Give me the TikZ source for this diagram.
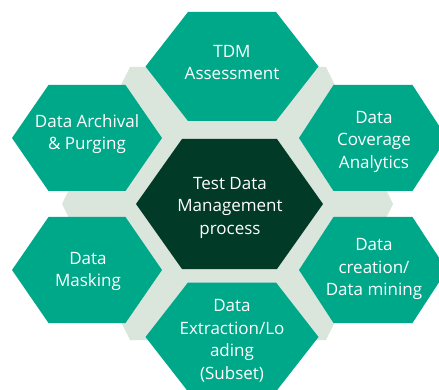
\documentclass[tikz,border=0pt]{standalone}
\usepackage{fontspec}
\setmainfont{Open Sans}
\usepackage{tikz}
\definecolor{tdmgreen}{RGB}{0,168,138}
\definecolor{tdmdark}{RGB}{2,58,40}
\definecolor{tdmlight}{RGB}{218,229,220}

\begin{document}
\begin{tikzpicture}[x=1pt,y=-1pt,
    celltext/.style={text=white,align=center,font=\fontsize{17}{22.5}\selectfont}]
    \useasboundingbox (0,0) rectangle (439,390);
    % light band behind the cells
    \fill[tdmlight] (62,204) -- (130,67) -- (326,67) -- (393,204) -- (326,340) -- (130,340) -- cycle;
    % outer cells
    \foreach \cx/\cy/\hw/\hh/\tw/\tx/\ty/\name/\txt in {
      232/66.5/86.5/54.5/44/232/62.5/tdm/{TDM\\Assessment},
      87/138/75/53/38.5/87/134/archival/{Data Archival\\\& Purging},
      373/138/74/53/39.5/374/141.5/coverage/{Data\\Coverage\\Analytics},
      87/270/75/53/38.5/88/271.5/masking/{Data\\Masking},
      373/270/74/53/39.5/374/269/creation/{Data\\creation/\\Data mining},
      232/337/86.5/54.5/44/232/341/extraction/{Data\\Extraction/Lo\\ading\\(Subset)}}
    {
      \fill[tdmgreen] (\cx-\hw,\cy) -- (\cx-\tw,\cy-\hh) -- (\cx+\tw,\cy-\hh) -- (\cx+\hw,\cy) -- (\cx+\tw,\cy+\hh) -- (\cx-\tw,\cy+\hh) -- cycle;
      \node[celltext] (\name) at (\tx,\ty) {\txt};
    }
    % centre cell
    \fill[tdmdark] (136,204) -- (182,139) -- (277,139) -- (323,204) -- (277,269) -- (182,269) -- cycle;
    \node[celltext] (tdmprocess) at (230,207.5) {Test Data\\Management\\process};
\end{tikzpicture}
\end{document}
